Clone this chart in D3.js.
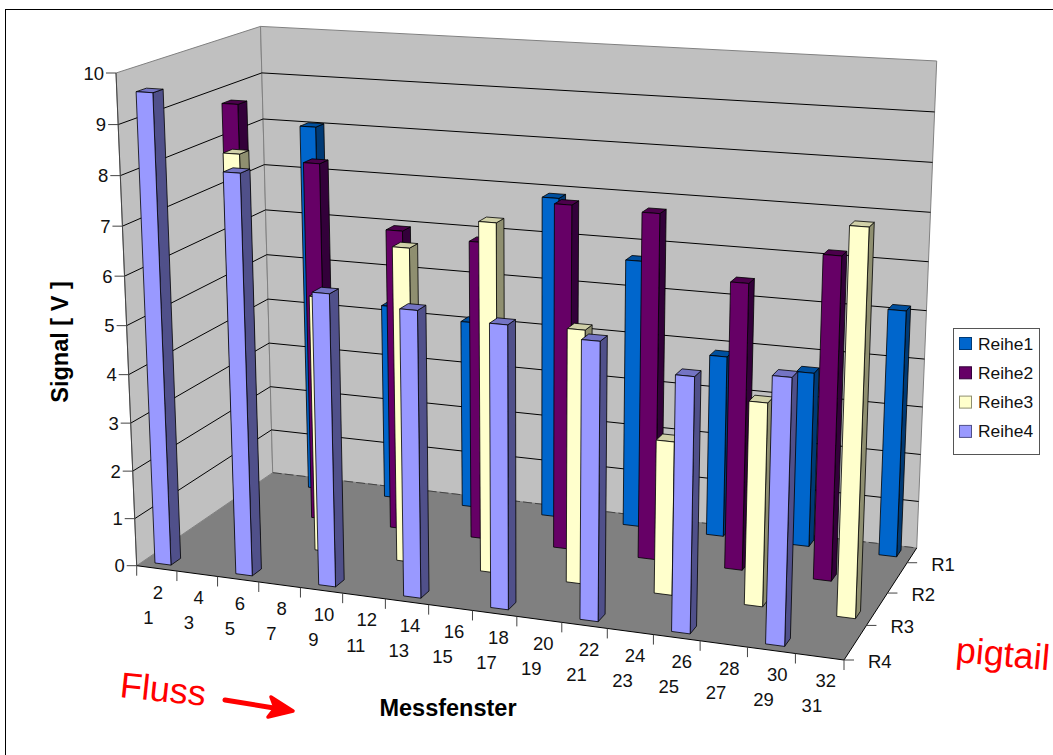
<!DOCTYPE html>
<html lang="de">
<head>
  <meta charset="UTF-8" />
  <title>Signal je Messfenster</title>
  <script src="https://cdn.jsdelivr.net/npm/d3@7/dist/d3.min.js"></script>
  <style>
    html, body { margin: 0; padding: 0; background: #fff; }
    svg { display: block; font-family: "Liberation Sans", Arial, sans-serif; }
  </style>
</head>
<body>
  <div id="chart"></div>
  <script>
    const rows = ["R4", "R3", "R2", "R1"];
    const seriesNames = ["Reihe1", "Reihe2", "Reihe3", "Reihe4"];
    const categories = d3.range(1, 33);
    const valueTicks = d3.range(0, 11);

    // jede Reihe hat nur jedes vierte Messfenster
    const reihe1Fenster = [3, 7, 11, 15, 19, 23, 27, 31];
    const reihe1Werte = [8.03, 4.27, 4.08, 6.88, 5.7, 3.85, 3.68, 5.13];
    const reihe2Fenster = [1, 5, 9, 13, 17, 21, 25, 29];
    const reihe2Werte = [8.77, 7.65, 6.38, 6.28, 7.18, 7.14, 5.89, 6.58];
    const reihe3Fenster = [3, 7, 11, 15, 19, 23, 27, 31];
    const reihe3Werte = [8.13, 5.35, 6.5, 7.14, 5.17, 3.12, 4.08, 7.6];
    const reihe4Fenster = [1, 5, 9, 13, 17, 21, 25, 29];
    const reihe4Werte = [9.61, 8.16, 5.94, 5.77, 5.65, 5.5, 5.0, 5.16];

    const seriesColors = ["#0066CC", "#660066", "#FFFFCC", "#9999FF"];
    const sideColors = ["#003a75", "#33003a", "#8f8f70", "#50508a"];
    const topColors = ["#00509f", "#4c004c", "#d0d0a8", "#7474c4"];

    const width = 1053, height = 755;
    const svg = d3.select("#chart").append("svg")
      .attr("width", width).attr("height", height);

    svg.append("rect").attr("x", 5.5).attr("y", 9.5)
      .attr("width", 1060).attr("height", 760)
      .attr("fill", "#fff").attr("stroke", "#000");

    // Ecken der Box im Bild, daraus die Projektion
    const A = [136.7, 565.7, 1], B = [844, 660, 1], C = [916.7, 548, 1];
    const D = [272.7, 472.7, 1], E = [116, 73, 1], G = [936.7, 63.7, 1];

    function det3(a, b, c) {
      return a[0] * (b[1] * c[2] - b[2] * c[1])
        - a[1] * (b[0] * c[2] - b[2] * c[0])
        + a[2] * (b[0] * c[1] - b[1] * c[0]);
    }
    // s_x*B + s_z*D - s_c*C = A
    const negC = C.map(v => -v);
    const nC = det3(B, D, negC);
    const sx = det3(A, D, negC) / nC;
    const sz = det3(B, A, negC) / nC;
    const sc = det3(B, D, A) / nC;
    // s_y*E - s_g*G = A - s_c*C
    const r = [0, 1, 2].map(i => A[i] - sc * C[i]);
    const nG = E[0] * (-G[2]) - (-G[0]) * E[2];
    const sy = (r[0] * (-G[2]) - (-G[0]) * r[2]) / nG;

    const p1 = B.map((v, i) => sx * v - A[i]);
    const p2 = D.map((v, i) => sz * v - A[i]);
    const p3 = E.map((v, i) => sy * v - A[i]);

    function project(x, z, y) {
      const h = [0, 1, 2].map(i => p1[i] * x + p2[i] * z + p3[i] * y + A[i]);
      return [h[0] / h[2], h[1] / h[2]];
    }

    const xScale = d3.scaleLinear().domain([0, 32]).range([0, 1]);
    const yScale = d3.scaleLinear().domain([0, 10]).range([0, 1]);
    const zTick = d3.scalePoint().domain(rows).range([0, 0.855]);
    const zBar = d3.scalePoint().domain(rows).range([0.075, 0.93]);
    const barWide = 0.4, barDeep = 0.033;

    const line = d3.line();
    const P = (cat, z, v) => project(xScale(cat), z, yScale(v));
    const quad = pts => line(pts) + "Z";

    // Waende und Boden
    const walls = svg.append("g");
    walls.append("path")
      .attr("d", quad([P(0, 0, 0), P(0, 1, 0), P(0, 1, 10), P(0, 0, 10)]))
      .attr("fill", "#C0C0C0").attr("stroke", "#808080");
    walls.append("path")
      .attr("d", quad([P(0, 1, 0), P(32, 1, 0), P(32, 1, 10), P(0, 1, 10)]))
      .attr("fill", "#C0C0C0").attr("stroke", "#808080");
    walls.append("path")
      .attr("d", quad([P(0, 0, 0), P(32, 0, 0), P(32, 1, 0), P(0, 1, 0)]))
      .attr("fill", "#808080");
    walls.append("path")
      .attr("d", line([P(0, 1, 0), P(32, 1, 0)]))
      .attr("fill", "none").attr("stroke", "#444").attr("stroke-dasharray", "9 3");

    valueTicks.filter(v => v > 0 && v < 10).forEach(v => {
      walls.append("path")
        .attr("d", line([P(0, 0, v), P(0, 1, v), P(32, 1, v)]))
        .attr("fill", "none").attr("stroke", "#000").attr("stroke-width", 1);
    });

    // Achsen
    const axes = svg.append("g").attr("stroke", "#000").attr("fill", "none");
    axes.append("path").attr("d", line([P(0, 0, 0), P(0, 0, 10)])).attr("stroke", "#444");
    axes.append("path").attr("d", line([P(0, 0, 0), P(32, 0, 0)]));
    axes.append("path").attr("d", line([P(32, 0, 0), P(32, 1, 0)]));

    const labels = svg.append("g").attr("fill", "#111").attr("font-size", 18.5);

    valueTicks.forEach(v => {
      const p = P(0, 0, v);
      axes.append("path").attr("d", line([p, [p[0] - 10, p[1]]])).attr("stroke", "#444");
      labels.append("text").attr("x", p[0] - 12).attr("y", p[1] + 6.5)
        .attr("text-anchor", "end").text(v);
    });

    categories.filter(c => c % 2 === 0 || c === 1).forEach(c => {
      const t = c === 1 ? 0 : c;
      const p = P(t, 0, 0);
      axes.append("path").attr("d", line([p, [p[0], p[1] + 10]])).attr("stroke", "#444");
    });

    categories.forEach(c => {
      const p = P(c - 0.5, 0, 0);
      const even = c % 2 === 0;
      labels.append("text")
        .attr("x", p[0] + (even ? -9 : 1.5) + c / 32 * 3)
        .attr("y", p[1] + (even ? 29 : 57))
        .attr("text-anchor", "middle").text(c);
    });

    rows.forEach(rw => {
      const p = P(32, zTick(rw), 0);
      axes.append("path").attr("d", line([p, [p[0] + 10, p[1]]])).attr("stroke", "#444");
      labels.append("text").attr("x", p[0] + 24).attr("y", p[1] + 8).text(rw);
    });

    // Saeulen von hinten nach vorne
    const drawOrder = [
      { i: 0, row: "R1", fenster: reihe1Fenster, werte: reihe1Werte },
      { i: 1, row: "R2", fenster: reihe2Fenster, werte: reihe2Werte },
      { i: 2, row: "R3", fenster: reihe3Fenster, werte: reihe3Werte },
      { i: 3, row: "R4", fenster: reihe4Fenster, werte: reihe4Werte }
    ];

    const bars = svg.append("g").attr("stroke", "#000").attr("stroke-width", 0.8)
      .attr("stroke-linejoin", "round");

    drawOrder.forEach(s => {
      s.fenster.forEach((cat, j) => {
        const v = s.werte[j];
        const x0 = cat - barWide, x1 = cat + barWide;
        const z0 = zBar(s.row) - barDeep, z1 = zBar(s.row) + barDeep;
        const g = bars.append("g");
        g.append("path").attr("fill", sideColors[s.i])
          .attr("d", quad([P(x1, z0, 0), P(x1, z1, 0), P(x1, z1, v), P(x1, z0, v)]));
        g.append("path").attr("fill", topColors[s.i])
          .attr("d", quad([P(x0, z0, v), P(x1, z0, v), P(x1, z1, v), P(x0, z1, v)]));
        g.append("path").attr("fill", seriesColors[s.i])
          .attr("d", quad([P(x0, z0, 0), P(x1, z0, 0), P(x1, z0, v), P(x0, z0, v)]));
      });
    });

    // Legende
    const legend = svg.append("g");
    legend.append("rect").attr("x", 953.5).attr("y", 328.5)
      .attr("width", 86).attr("height", 126)
      .attr("fill", "#fff").attr("stroke", "#555").attr("stroke-width", 1);
    seriesNames.forEach((name, i) => {
      const y = 344 + i * 29.3;
      legend.append("rect").attr("x", 959.5).attr("y", y - 6.5)
        .attr("width", 12).attr("height", 12)
        .attr("fill", seriesColors[i]).attr("stroke", sideColors[i]);
      legend.append("text").attr("x", 978).attr("y", y + 5.5)
        .attr("font-size", 17.4).attr("fill", "#111").text(name);
    });

    // Achsentitel
    svg.append("text").attr("transform", "translate(68,342) rotate(-90)")
      .attr("text-anchor", "middle").attr("font-size", 23.5).attr("font-weight", "bold")
      .text("Signal [ V ]");
    svg.append("text").attr("x", 448).attr("y", 716)
      .attr("text-anchor", "middle").attr("font-size", 23.5).attr("font-weight", "bold")
      .text("Messfenster");

    // rote Anmerkungen
    svg.append("text").attr("transform", "translate(119,697) rotate(6)")
      .attr("font-size", 36).attr("fill", "#FF0000").text("Fluss");
    svg.append("text").attr("transform", "translate(955,662) rotate(5)")
      .attr("font-size", 36).attr("fill", "#FF0000").text("pigtail");
    svg.append("path").attr("d", line([[225, 700], [280, 709]]))
      .attr("stroke", "#FF0000").attr("stroke-width", 5).attr("stroke-linecap", "round");
    svg.append("path").attr("d", line([[271, 697], [293, 711], [268, 717], [275, 708]]) + "Z")
      .attr("fill", "#FF0000").attr("stroke", "#FF0000").attr("stroke-width", 3.5)
      .attr("stroke-linejoin", "round");
  </script>
</body>
</html>
